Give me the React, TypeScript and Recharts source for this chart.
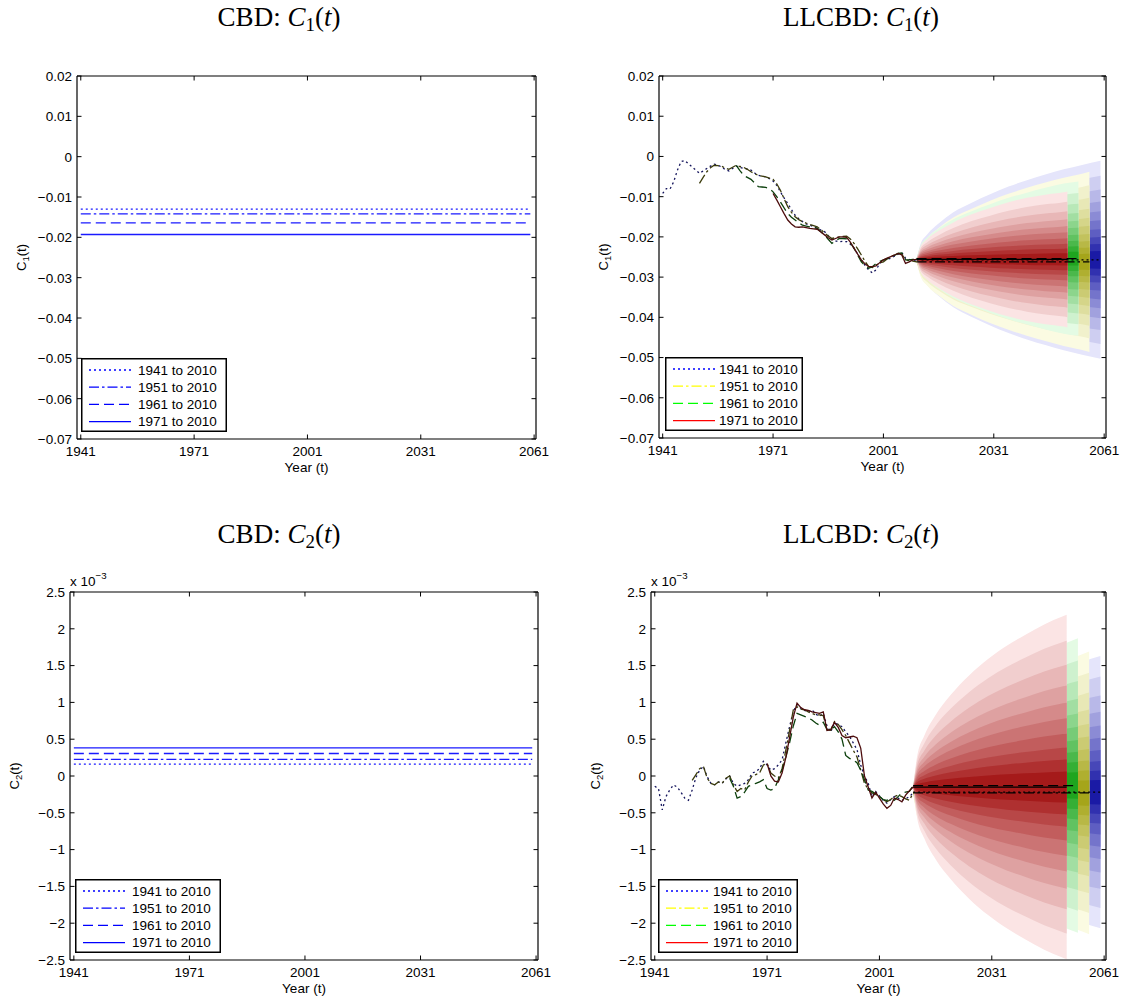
import React from 'react'
import { ComposedChart, Line, Area, XAxis, YAxis, Legend } from 'recharts'

const SANS = '"Liberation Sans", Helvetica, Arial, sans-serif'
const SERIF = '"Liberation Serif", "Times New Roman", serif'

const PERIODS = ['1941 to 2010', '1951 to 2010', '1961 to 2010', '1971 to 2010']
const START_YEARS = [1941, 1951, 1961, 1971]
const FORECAST_END = [2060, 2057, 2054, 2051]

const YEAR_TICKS = [1941, 1971, 2001, 2031, 2061]
const X_DOMAIN: [number, number] = [1940, 2061.5]
const C1_TICKS = [0.02, 0.01, 0, -0.01, -0.02, -0.03, -0.04, -0.05, -0.06, -0.07]
const C2_TICKS = [2.5, 2, 1.5, 1, 0.5, 0, -0.5, -1, -1.5, -2, -2.5]

// CBD: one constant per calibration period (C2 in units of 10^-3)
const CBD_C1 = [-0.013, -0.0142, -0.0164, -0.0193]
const CBD_C2 = [0.16, 0.225, 0.306, 0.383]
const CBD_SPAN = [1941, 2060]

// LLCBD fitted C1(t), one value per year from the start year to 2010
const LL_C1_1941 = [
  -0.0092, -0.008, -0.0081, -0.0063, -0.0034, -0.0013, -0.001, -0.0018, -0.0026, -0.0034,
  -0.0042, -0.0036, -0.003, -0.0024, -0.0019, -0.0022, -0.0026, -0.0033, -0.0036, -0.003,
  -0.0024, -0.0027, -0.003, -0.0031, -0.0034, -0.0041, -0.0047, -0.0049, -0.0051, -0.0055,
  -0.0061, -0.0072, -0.0088, -0.0103, -0.0117, -0.0132, -0.0146, -0.0155, -0.0162, -0.0168,
  -0.0171, -0.0174, -0.0179, -0.0183, -0.0187, -0.0197, -0.0206, -0.021, -0.0212, -0.0211,
  -0.0212, -0.0218, -0.0228, -0.0243, -0.0257, -0.0271, -0.0282, -0.029, -0.0282, -0.0266,
  -0.0257, -0.0256, -0.0253, -0.0248, -0.0243, -0.0239, -0.0253, -0.0256, -0.0257, -0.0259,
]
const LL_C1_1951 = [
  -0.0067, -0.0052, -0.0038, -0.0028, -0.0022, -0.0023, -0.0024, -0.0029, -0.0032, -0.0027,
  -0.0022, -0.0025, -0.0027, -0.0032, -0.0038, -0.0043, -0.0047, -0.0049, -0.0051, -0.0054,
  -0.0057, -0.0068, -0.0084, -0.0105, -0.0125, -0.0139, -0.015, -0.0157, -0.0162, -0.0166,
  -0.0169, -0.0172, -0.0175, -0.0182, -0.019, -0.0198, -0.0204, -0.0202, -0.02, -0.0199,
  -0.0198, -0.0205, -0.0216, -0.023, -0.0245, -0.0261, -0.0274, -0.0276, -0.027, -0.0265,
  -0.0262, -0.0255, -0.0249, -0.0245, -0.0241, -0.0243, -0.0257, -0.0259, -0.026, -0.0262,
]
const LL_C1_1961 = [
  -0.0022, -0.0035, -0.0047, -0.0052, -0.0057, -0.0066, -0.0075, -0.0076, -0.0077, -0.008,
  -0.0088, -0.01, -0.0113, -0.0128, -0.0142, -0.0151, -0.0158, -0.0165, -0.0171, -0.0173,
  -0.0175, -0.0177, -0.0179, -0.0187, -0.0195, -0.0206, -0.0216, -0.021, -0.0204, -0.0204,
  -0.0205, -0.0215, -0.0228, -0.0245, -0.0262, -0.0271, -0.0278, -0.0274, -0.0266, -0.0261,
  -0.0257, -0.0254, -0.0251, -0.0246, -0.0241, -0.024, -0.0257, -0.0257, -0.0256, -0.0255,
]
const LL_C1_1971 = [
  -0.0092, -0.0108, -0.0125, -0.0142, -0.0158, -0.0168, -0.0175, -0.0176, -0.0175, -0.0177,
  -0.0179, -0.018, -0.0181, -0.0188, -0.0195, -0.0202, -0.0208, -0.0204, -0.02, -0.02,
  -0.0201, -0.0213, -0.0228, -0.0243, -0.0257, -0.0267, -0.0274, -0.0274, -0.0272, -0.0264,
  -0.0257, -0.0253, -0.0249, -0.0245, -0.0241, -0.0245, -0.0266, -0.0262, -0.0257, -0.0256,
]

// LLCBD fitted C2(t) in units of 10^-3
const LL_C2_1941 = [
  -0.14, -0.17, -0.46, -0.28, -0.19, -0.12, -0.15, -0.22, -0.3, -0.33,
  -0.19, -0.02, 0.08, 0.13, -0.01, -0.1, -0.12, -0.08, -0.1, -0.04,
  0.0, -0.1, -0.14, -0.12, -0.1, -0.05, 0.04, 0.06, 0.1, 0.2,
  0.15, 0.08, 0.1, 0.15, 0.22, 0.45, 0.67, 0.88, 0.97, 0.92,
  0.89, 0.87, 0.9, 0.84, 0.81, 0.85, 0.68, 0.6, 0.72, 0.7,
  0.67, 0.6, 0.54, 0.45, 0.36, 0.15, 0.0, -0.1, -0.28, -0.21,
  -0.27, -0.33, -0.37, -0.32, -0.28, -0.3, -0.33, -0.31, -0.28, -0.23,
]
const LL_C2_1951 = [
  -0.06, 0.02, 0.1, 0.13, -0.03, -0.1, -0.12, -0.08, -0.1, -0.03,
  0.0, -0.12, -0.21, -0.17, -0.19, -0.08, 0.0, 0.02, 0.04, 0.15,
  0.17, 0.04, 0.0, -0.03, 0.1, 0.35, 0.62, 0.9, 0.94, 0.91,
  0.9, 0.87, 0.85, 0.83, 0.83, 0.82, 0.63, 0.62, 0.74, 0.7,
  0.63, 0.55, 0.45, 0.35, 0.26, 0.08, -0.1, -0.18, -0.23, -0.25,
  -0.28, -0.32, -0.35, -0.32, -0.28, -0.26, -0.28, -0.31, -0.33, -0.23,
]
const LL_C2_1961 = [
  -0.03, -0.14, -0.3, -0.28, -0.22, -0.14, -0.12, -0.1, -0.08, -0.05,
  -0.17, -0.19, -0.17, -0.05, 0.08, 0.25, 0.45, 0.68, 0.85, 0.83,
  0.81, 0.79, 0.76, 0.72, 0.69, 0.73, 0.63, 0.63, 0.67, 0.6,
  0.5, 0.28, 0.24, 0.22, 0.18, 0.08, -0.05, -0.19, -0.21, -0.24,
  -0.28, -0.32, -0.33, -0.31, -0.33, -0.28, -0.23, -0.22, -0.21, -0.13,
]
const LL_C2_1971 = [
  0.17, 0.0, -0.07, -0.08, 0.04, 0.25, 0.52, 0.8, 0.99, 0.93,
  0.9, 0.89, 0.87, 0.86, 0.85, 0.87, 0.62, 0.63, 0.73, 0.66,
  0.55, 0.52, 0.53, 0.54, 0.52, 0.38, 0.0, -0.15, -0.3, -0.22,
  -0.3, -0.38, -0.44, -0.4, -0.3, -0.32, -0.35, -0.26, -0.2, -0.15,
]

// forecast medians after 2010
const C1_CENTER = [-0.0257, -0.0262, -0.0254, -0.0256]
const C2_CENTER = [-0.22, -0.23, -0.13, -0.15]

// outer half-width of each fan; last entry sits at the fan's end year
const FAN_YEARS = [2010, 2011, 2013, 2016, 2020, 2025, 2030, 2035, 2040, 2045, 2050, 2055, 2060]
const HW_C1_1941 = [0, 0.0037, 0.0064, 0.009, 0.0118, 0.0142, 0.0163, 0.0182, 0.0198, 0.0212, 0.0225, 0.0236, 0.0246]
const HW_C1_1951 = [0, 0.0034, 0.006, 0.0084, 0.011, 0.0132, 0.0152, 0.0169, 0.0184, 0.0197, 0.0209, 0.0219, 0.0224]
const HW_C1_1961 = [0, 0.0031, 0.0053, 0.0075, 0.0098, 0.0118, 0.0135, 0.0151, 0.0164, 0.0176, 0.0187, 0.0192]
const HW_C1_1971 = [0, 0.003, 0.0051, 0.0071, 0.0092, 0.0112, 0.0128, 0.0142, 0.0153, 0.0161, 0.0167, 0.0169]
const HW_C2_1941 = [0, 0.29, 0.5, 0.7, 0.9, 1.08, 1.24, 1.37, 1.49, 1.59, 1.68, 1.77, 1.85]
const HW_C2_1951 = [0, 0.31, 0.53, 0.75, 0.96, 1.16, 1.33, 1.47, 1.59, 1.7, 1.79, 1.88, 1.92]
const HW_C2_1961 = [0, 0.33, 0.57, 0.8, 1.02, 1.24, 1.42, 1.57, 1.7, 1.81, 1.92, 2.0]
const HW_C2_1971 = [0, 0.4, 0.7, 0.98, 1.25, 1.52, 1.74, 1.92, 2.07, 2.21, 2.32, 2.34]

// band edges as a share of the outer half-width, outermost first
const BAND_EDGES = [1.0, 0.85, 0.71, 0.59, 0.49, 0.4, 0.31, 0.23, 0.16, 0.09]

// styles
const DASHES = ['2 3', '10 3 2.5 3', '10 5', undefined]
const FAN_LIGHT = [[229, 229, 251], [251, 251, 226], [228, 251, 228], [251, 228, 228]]
const FAN_DARK = [[26, 26, 165], [165, 165, 26], [31, 165, 31], [165, 26, 26]]
const HIST_COLORS = ['#14145c', '#3c3c0c', '#0c400c', '#4c0c0c']
const LL_LEGEND_COLORS = ['#0000ff', '#ffff00', '#00ff00', '#ff0000']
const CBD_COLOR = '#1a1aff'
const TICK_LEN = 4.5
const FONT_SIZE = 13.5

const shade = (p: number, k: number) => {
  const t = k / (BAND_EDGES.length - 1)
  const rgb = FAN_LIGHT[p].map((v, i) => Math.round(v + (FAN_DARK[p][i] - v) * t))
  return `rgb(${rgb.join(',')})`
}

const fmt = (v: number) => String(v).replace('-', '\u2212')

const BottomTick = (props: any) => {
  const { x, y, payload } = props
  return (
    <g>
      <line x1={x} x2={x} y1={y} y2={y - TICK_LEN} stroke="#000" />
      <text x={x} y={y + 17} textAnchor="middle" fontSize={FONT_SIZE} fontFamily={SANS} fill="#000">
        {payload.value}
      </text>
    </g>
  )
}

const TopTick = (props: any) => {
  const { x, y } = props
  return <line x1={x} x2={x} y1={y} y2={y + TICK_LEN} stroke="#000" />
}

const LeftTick = (props: any) => {
  const { x, y, payload } = props
  return (
    <g>
      <line x1={x} x2={x + TICK_LEN} y1={y} y2={y} stroke="#000" />
      <text x={x - 5} y={y} dy="0.36em" textAnchor="end" fontSize={FONT_SIZE} fontFamily={SANS} fill="#000">
        {fmt(payload.value)}
      </text>
    </g>
  )
}

const RightTick = (props: any) => {
  const { x, y } = props
  return <line x1={x} x2={x - TICK_LEN} y1={y} y2={y} stroke="#000" />
}

function LegendBox({ colors, width, textX }: { colors: string[]; width: number; textX: number }) {
  return (
    <svg width={width} height={74} style={{ display: 'block' }}>
      <rect x={0.75} y={0.75} width={width - 1.5} height={72.5} fill="#fff" stroke="#000" strokeWidth={1.5} />
      {PERIODS.map((label, i) => {
        const y = 12 + i * 17.2
        return (
          <g key={label}>
            <line x1={8} x2={50} y1={y} y2={y} stroke={colors[i]} strokeWidth={1.3} strokeDasharray={DASHES[i]} />
            <text x={textX} y={y} dy="0.36em" fontSize={FONT_SIZE} fontFamily={SANS} fill="#000">
              {label}
            </text>
          </g>
        )
      })}
    </svg>
  )
}

type Box = { left: number; top: number; width: number; height: number }

type PanelProps = {
  box: Box
  yDomain: [number, number]
  yTicks: number[]
  sub: string
  legendColors: string[]
  legendWidth: number
  legendTextX: number
  legendInset: number
  children: React.ReactNode
}

// one MATLAB-style boxed axes: ticks point inwards on all four sides
function Panel({ box, yDomain, yTicks, sub, legendColors, legendWidth, legendTextX, legendInset, children }: PanelProps) {
  const width = box.width + 100
  const height = box.height + 60
  return (
    <div style={{ position: 'absolute', left: box.left - 70, top: box.top - 10 }}>
      <ComposedChart width={width} height={height} margin={{ top: 9, right: 29, bottom: 0, left: 0 }}>
        <XAxis
          type="number"
          dataKey="year"
          domain={X_DOMAIN}
          ticks={YEAR_TICKS}
          allowDataOverflow
          interval={0}
          height={50}
          tickSize={0}
          tickMargin={0}
          tickLine={false}
          axisLine={{ stroke: '#000', strokeWidth: 1.2 }}
          tick={BottomTick}
          label={(p: any) => {
            const vb = p.viewBox
            return (
              <text x={vb.x + vb.width / 2} y={vb.y + 33} textAnchor="middle" fontSize={FONT_SIZE} fontFamily={SANS} fill="#000">
                Year (t)
              </text>
            )
          }}
        />
        <XAxis
          xAxisId="top"
          orientation="top"
          type="number"
          dataKey="year"
          domain={X_DOMAIN}
          ticks={YEAR_TICKS}
          allowDataOverflow
          interval={0}
          height={1}
          tickSize={0}
          tickMargin={0}
          tickLine={false}
          axisLine={{ stroke: '#000', strokeWidth: 1.2 }}
          tick={TopTick}
        />
        <YAxis
          type="number"
          domain={yDomain}
          ticks={yTicks}
          allowDataOverflow
          interval={0}
          width={70}
          tickSize={0}
          tickMargin={0}
          tickLine={false}
          axisLine={{ stroke: '#000', strokeWidth: 1.2 }}
          tick={LeftTick}
          label={(p: any) => {
            const vb = p.viewBox
            const cx = vb.x + 18.5
            const cy = vb.y + vb.height / 2
            return (
              <text
                x={cx}
                y={cy}
                transform={`rotate(-90 ${cx} ${cy})`}
                textAnchor="middle"
                fontSize={13}
                fontFamily={SANS}
                fill="#000"
              >
                C<tspan fontSize={9.5} dy={3}>{sub}</tspan>
                <tspan dy={-3}>(t)</tspan>
              </text>
            )
          }}
        />
        <YAxis
          yAxisId="right"
          orientation="right"
          type="number"
          domain={yDomain}
          ticks={yTicks}
          allowDataOverflow
          interval={0}
          width={1}
          tickSize={0}
          tickMargin={0}
          tickLine={false}
          axisLine={{ stroke: '#000', strokeWidth: 1.2 }}
          tick={RightTick}
        />
        <Legend
          layout="vertical"
          align="center"
          verticalAlign="middle"
          wrapperStyle={{ left: 70 + legendInset, top: 10 + box.height - 7 - 74, width: legendWidth, height: 74 }}
          content={() => <LegendBox colors={legendColors} width={legendWidth} textX={legendTextX} />}
        />
        {children}
      </ComposedChart>
    </div>
  )
}

function cbdLines(levels: number[]) {
  return levels.map((level, p) => (
    <Line
      key={`cbd-${p}`}
      name={PERIODS[p]}
      data={CBD_SPAN.map((year) => ({ year, value: level }))}
      dataKey="value"
      type="linear"
      stroke={CBD_COLOR}
      strokeWidth={1.3}
      strokeDasharray={DASHES[p]}
      dot={false}
      activeDot={false}
      isAnimationActive={false}
    />
  ))
}

function fanAreas(centers: number[], widths: number[][], tag: string) {
  // widest calibration period first so the later fans sit on top
  return [0, 1, 2, 3].flatMap((p) => {
    const years = [...FAN_YEARS.filter((y) => y < FORECAST_END[p]), FORECAST_END[p]]
    return BAND_EDGES.map((edge, k) => (
      <Area
        key={`${tag}-fan-${p}-${k}`}
        data={years.map((year, j) => ({
          year,
          band: [centers[p] - widths[p][j] * edge, centers[p] + widths[p][j] * edge],
        }))}
        dataKey="band"
        type="monotone"
        stroke="none"
        fill={shade(p, k)}
        fillOpacity={1}
        legendType="none"
        dot={false}
        activeDot={false}
        isAnimationActive={false}
      />
    ))
  })
}

function historyLines(series: number[][], centers: number[], tag: string) {
  const fitted = series.map((vals, p) => (
    <Line
      key={`${tag}-hist-${p}`}
      name={PERIODS[p]}
      data={vals.map((value, i) => ({ year: START_YEARS[p] + i, value }))}
      dataKey="value"
      type="linear"
      stroke={HIST_COLORS[p]}
      strokeWidth={1.3}
      strokeDasharray={DASHES[p]}
      dot={false}
      activeDot={false}
      isAnimationActive={false}
    />
  ))
  const forecast = centers.map((c, p) => (
    <Line
      key={`${tag}-fc-${p}`}
      data={[2010, FORECAST_END[p]].map((year) => ({ year, value: c }))}
      dataKey="value"
      type="linear"
      stroke="#000"
      strokeWidth={1.3}
      strokeDasharray={DASHES[p]}
      legendType="none"
      dot={false}
      activeDot={false}
      isAnimationActive={false}
    />
  ))
  return [...fitted, ...forecast]
}

function Title({ cx, top, model, sub }: { cx: number; top: number; model: string; sub: string }) {
  return (
    <div
      style={{
        position: 'absolute',
        left: cx - 150,
        top,
        width: 300,
        textAlign: 'center',
        fontFamily: SERIF,
        fontSize: 27,
        lineHeight: '27px',
        whiteSpace: 'nowrap',
        color: '#000',
      }}
    >
      {model}: <i>C</i>
      <span style={{ fontSize: '0.7em', position: 'relative', top: '0.28em' }}>{sub}</span>(<i>t</i>)
    </div>
  )
}

function Multiplier({ left, top }: { left: number; top: number }) {
  return (
    <div style={{ position: 'absolute', left, top, fontFamily: SANS, fontSize: FONT_SIZE, lineHeight: '14px', whiteSpace: 'nowrap' }}>
      x 10<span style={{ fontSize: '0.72em', position: 'relative', top: '-0.75em' }}>{'\u22123'}</span>
    </div>
  )
}

const PANEL_TL: Box = { left: 77, top: 76, width: 459, height: 363 }
const PANEL_TR: Box = { left: 659, top: 76, width: 447, height: 362 }
const PANEL_BL: Box = { left: 70, top: 592, width: 468, height: 368 }
const PANEL_BR: Box = { left: 651, top: 592, width: 455, height: 368 }

export default function App() {
  const cbdBlue = PERIODS.map(() => '#0000ff')
  return (
    <div style={{ position: 'absolute', left: 0, top: 0, width: 1136, height: 1002, background: '#fff', overflow: 'hidden' }}>
      <Title cx={279} top={4} model="CBD" sub="1" />
      <Title cx={861} top={4} model="LLCBD" sub="1" />
      <Title cx={279} top={521} model="CBD" sub="2" />
      <Title cx={861} top={521} model="LLCBD" sub="2" />

      <Panel box={PANEL_TL} yDomain={[-0.07, 0.02]} yTicks={C1_TICKS} sub="1" legendColors={cbdBlue} legendWidth={146} legendTextX={57} legendInset={4}>
        {cbdLines(CBD_C1)}
      </Panel>

      <Panel box={PANEL_TR} yDomain={[-0.07, 0.02]} yTicks={C1_TICKS} sub="1" legendColors={LL_LEGEND_COLORS} legendWidth={138} legendTextX={54} legendInset={6}>
        {fanAreas(C1_CENTER, [HW_C1_1941, HW_C1_1951, HW_C1_1961, HW_C1_1971], 'c1')}
        {historyLines([LL_C1_1941, LL_C1_1951, LL_C1_1961, LL_C1_1971], C1_CENTER, 'c1')}
      </Panel>

      <Panel box={PANEL_BL} yDomain={[-2.5, 2.5]} yTicks={C2_TICKS} sub="2" legendColors={cbdBlue} legendWidth={146} legendTextX={57} legendInset={5}>
        {cbdLines(CBD_C2)}
      </Panel>

      <Panel box={PANEL_BR} yDomain={[-2.5, 2.5]} yTicks={C2_TICKS} sub="2" legendColors={LL_LEGEND_COLORS} legendWidth={140} legendTextX={55} legendInset={7}>
        {fanAreas(C2_CENTER, [HW_C2_1941, HW_C2_1951, HW_C2_1961, HW_C2_1971], 'c2')}
        {historyLines([LL_C2_1941, LL_C2_1951, LL_C2_1961, LL_C2_1971], C2_CENTER, 'c2')}
      </Panel>

      <Multiplier left={70} top={575} />
      <Multiplier left={651} top={575} />
    </div>
  )
}
